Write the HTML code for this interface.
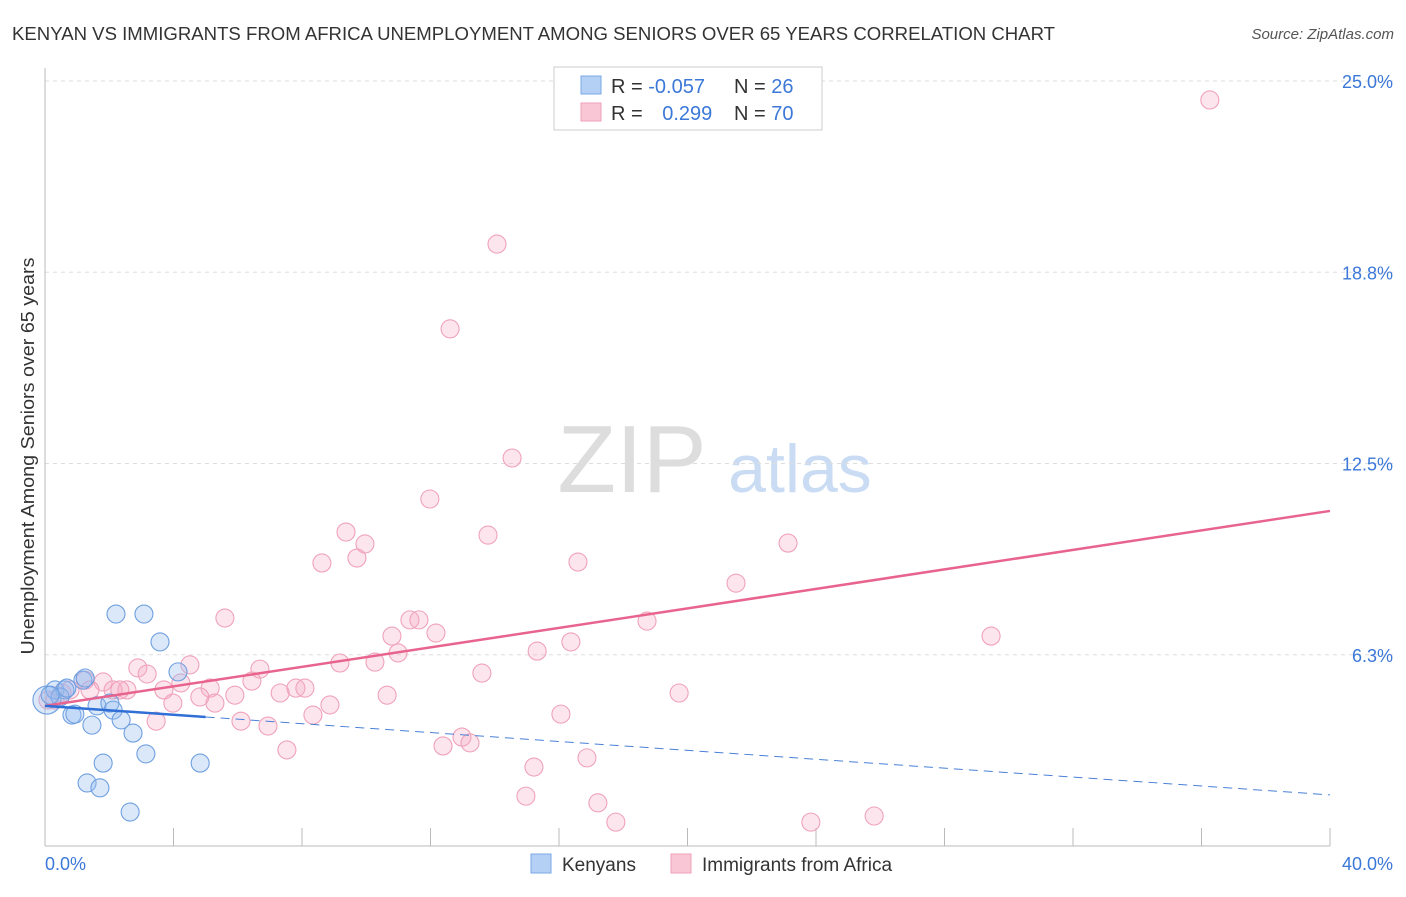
<!DOCTYPE html>
<html><head><meta charset="utf-8"><style>
body{margin:0;background:#fff;font-family:"Liberation Sans",sans-serif;}
svg text{font-family:"Liberation Sans",sans-serif;}
</style></head><body>
<svg id="c" width="1406" height="892">
<text x="12" y="40" font-size="18" fill="#333" textLength="1043" lengthAdjust="spacingAndGlyphs">KENYAN VS IMMIGRANTS FROM AFRICA UNEMPLOYMENT AMONG SENIORS OVER 65 YEARS CORRELATION CHART</text>
<text x="1394" y="39" font-size="15" fill="#555" font-style="italic" text-anchor="end">Source: ZipAtlas.com</text>
<text x="632" y="492" font-size="96" fill="#ddd" font-family="Liberation Serif" text-anchor="middle">ZIP</text>
<text x="800" y="492" font-size="68" fill="#c9dcf3" text-anchor="middle">atlas</text>
<g id="grid"></g>
<g id="axes"></g>
<g id="pts"></g>
<g id="lines"></g>
<text transform="translate(34,456) rotate(-90)" font-size="18" fill="#333" text-anchor="middle" textLength="397" lengthAdjust="spacingAndGlyphs">Unemployment Among Seniors over 65 years</text>
<g>
<rect x="554" y="67" width="268" height="63" fill="#fff" stroke="#ccc"/>
<rect x="581" y="76" width="20" height="18" fill="#b5d0f5" stroke="#7aa7e6"/>
<rect x="581" y="103" width="20" height="18" fill="#f9c6d5" stroke="#efa0b8"/>
<text x="611" y="93" font-size="20" fill="#333">R = <tspan fill="#3b78d8">-0.057</tspan></text>
<text x="734" y="93" font-size="20" fill="#333">N = <tspan fill="#3b78d8">26</tspan></text>
<text x="611" y="120" font-size="20" fill="#333">R = <tspan fill="#3b78d8" dx="14">0.299</tspan></text>
<text x="734" y="120" font-size="20" fill="#333">N = <tspan fill="#3b78d8">70</tspan></text>
</g>
<g><rect x="531" y="854" width="20" height="19" fill="#b5d0f5" stroke="#7aa7e6"/><text x="562" y="871" font-size="19" fill="#333">Kenyans</text></g>
<g><rect x="671" y="854" width="20" height="19" fill="#f9c6d5" stroke="#efa0b8"/><text x="702" y="871" font-size="19" fill="#333">Immigrants from Africa</text></g>
</svg>
<script>
const yTicks=[6.25,12.5,18.75,25];
const yTickLabels=["6.3%","12.5%","18.8%","25.0%"];
const blueX=[0.06,0.31,0.62,0.47,0.84,0.93,1.18,1.46,1.62,1.81,1.31,1.71,2.02,2.12,2.21,2.37,2.74,3.08,3.14,3.58,4.14,4.83,2.65,0.68,0.16,1.25];
const blueY=[4.77,5.10,5.10,4.87,4.28,4.31,5.42,3.95,4.58,2.71,2.06,1.90,4.67,4.44,7.58,4.12,3.69,7.58,3.01,6.67,5.69,2.71,1.11,5.16,4.93,5.49];
const pinkX=[36.26,14.07,12.61,14.54,11.98,13.79,9.37,9.96,8.62,9.71,16.59,23.13,21.51,5.60,11.36,11.64,10.80,12.17,29.45,18.74,16.37,15.32,10.99,10.27,9.18,6.69,4.51,2.89,3.18,13.60,1.81,1.25,4.23,6.44,5.14,3.70,2.55,2.12,7.81,8.09,7.32,5.91,4.82,10.65,19.74,3.98,5.29,8.87,8.34,6.10,6.94,3.46,16.06,12.98,12.39,13.23,7.53,16.87,15.22,14.97,17.21,17.77,23.84,25.81,0.53,0.78,0.31,1.40,2.33,0.09];
const pinkY=[24.38,19.67,16.90,12.68,11.34,10.16,10.26,9.87,9.25,9.41,9.28,9.90,8.59,7.45,7.39,7.39,6.86,6.96,6.86,7.35,6.67,6.37,6.31,6.01,5.98,5.78,5.92,5.82,5.62,5.65,5.36,5.42,5.33,5.39,5.16,5.10,5.10,5.10,5.16,5.16,5.00,4.93,4.87,4.93,5.00,4.67,4.67,4.61,4.28,4.08,3.92,4.08,4.31,3.56,3.27,3.37,3.14,2.88,2.58,1.63,1.41,0.78,0.78,0.98,5.00,5.10,4.77,5.10,5.10,4.77];
const pinkTrend=[4.58,10.95];
const blueTrend=[4.58,1.67];
const NS="http://www.w3.org/2000/svg";
const X=v=>45+v/40*1285, Y=v=>846-v*30.6;
function mk(t,a,p){const e=document.createElementNS(NS,t);for(const k in a)e.setAttribute(k,a[k]);document.getElementById(p).appendChild(e);return e;}
yTicks.forEach((t,i)=>{
 const g=mk('line',{x1:45,x2:1394,y1:Y(t),y2:Y(t),stroke:'#ddd','stroke-dasharray':'4,4'},'grid');
 
 
 const l=mk('text',{x:1393,y:Y(t)+7,'font-size':18,fill:'#3b78d8','text-anchor':'end'},'grid');
 l.textContent=yTickLabels[i];
 
 
});
const ax=mk('line',{x1:45,x2:45,y1:68,y2:846,stroke:'#bbb'},'axes');


const bx=mk('line',{x1:45,x2:1330,y1:846,y2:846,stroke:'#bbb'},'axes');


for(let i=1;i<=10;i++){const t=mk('line',{x1:X(i*4),x2:X(i*4),y1:828,y2:846,stroke:'#bbb'},'axes');
 
 }
[["0.0%",45,'start'],["40.0%",1393,'end']].forEach(a=>{const t=mk('text',{x:a[1],y:870,'font-size':18,fill:'#3b78d8','text-anchor':a[2]},'axes');t.textContent=a[0];
 
 });
pinkX.forEach((x,i)=>{const c=mk('circle',{cx:X(x),cy:Y(pinkY[i]),r:9,fill:'rgba(246,170,195,0.3)',stroke:'#f0a2ba','stroke-width':1.1},'pts');
 
 });
blueX.forEach((x,i)=>{const c=mk('circle',{cx:X(x),cy:Y(blueY[i]),r:i==0?14:9,fill:'rgba(150,190,240,0.35)',stroke:'#6f9fe0','stroke-width':1.1},'pts');
 
 });
const pl=mk('line',{x1:X(0),y1:Y(pinkTrend[0]),x2:X(40),y2:Y(pinkTrend[1]),stroke:'#e8648e','stroke-width':2.5},'lines');


const bs=(v)=>blueTrend[0]+(blueTrend[1]-blueTrend[0])*v/40;
const b1=mk('line',{x1:X(0),y1:Y(bs(0)),x2:X(5),y2:Y(bs(5)),stroke:'#2f6fd6','stroke-width':2.5},'lines');


const b2=mk('line',{x1:X(5),y1:Y(bs(5)),x2:X(40),y2:Y(bs(40)),stroke:'#4a80d8','stroke-width':1,'stroke-dasharray':'9,6'},'lines');


</script>
</body></html>
